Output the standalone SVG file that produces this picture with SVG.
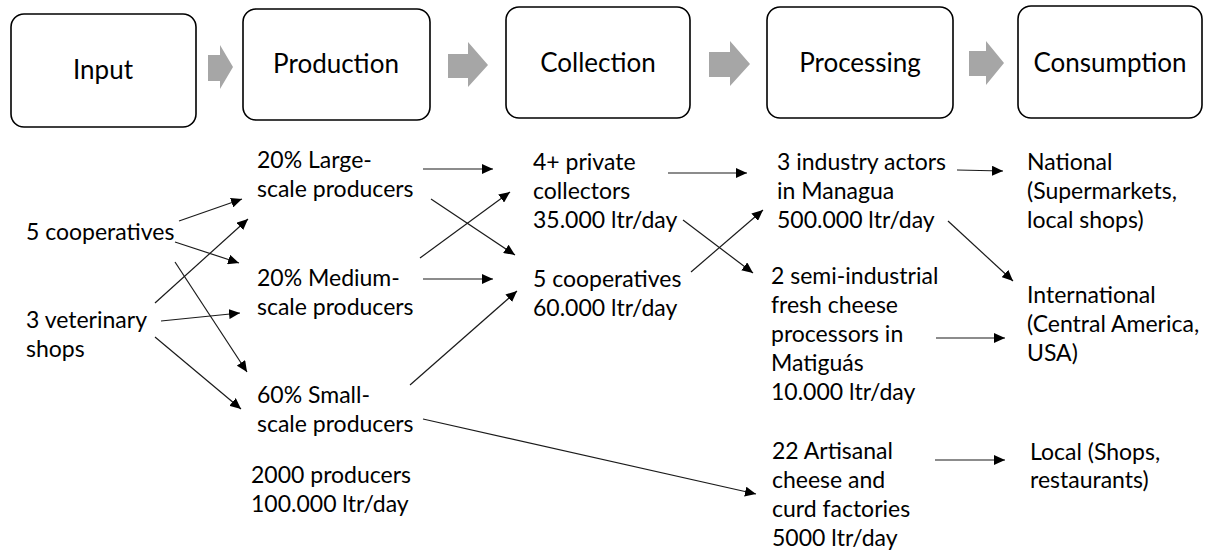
<svg xmlns="http://www.w3.org/2000/svg" width="1209" height="551" viewBox="0 0 1209 551">
<style>
.box{fill:#fff;stroke:#000;stroke-width:1.6}
.h{font-family:Lato,"Liberation Sans",sans-serif;font-size:26px;fill:#000;text-anchor:middle}
.t{font-family:Lato,"Liberation Sans",sans-serif;font-size:23px;fill:#000}
.blk{fill:#a6a6a6}
.c{stroke:#1a1a1a;stroke-width:1.2;fill:none;marker-end:url(#ah)}
</style>
<defs>
<marker id="ah" markerUnits="userSpaceOnUse" markerWidth="12" markerHeight="10" refX="11" refY="5" orient="auto">
<path d="M0,0 L11,5 L0,10 Z" fill="#000"/>
</marker>
</defs>
<rect width="1209" height="551" fill="#fff"/>
<g id="stage-input"><rect class="box" x="11" y="14" width="185" height="113" rx="13"/><text class="h" x="103" y="79">Input</text></g>
<g id="stage-production"><rect class="box" x="243" y="9" width="187" height="111" rx="13"/><text class="h" x="336" y="73">Production</text></g>
<g id="stage-collection"><rect class="box" x="506" y="7" width="184" height="111" rx="13"/><text class="h" x="598" y="72">Collection</text></g>
<g id="stage-processing"><rect class="box" x="767" y="7" width="186" height="111" rx="13"/><text class="h" x="860" y="72">Processing</text></g>
<g id="stage-consumption"><rect class="box" x="1018" y="6" width="184" height="112" rx="13"/><text class="h" x="1110" y="72">Consumption</text></g>
<g id="block-arrows">
<path class="blk" d="M208,55 H220 V45 L233,67 L220,89 V81 H208 Z"/>
<path class="blk" d="M448,54 H468 V42 L488,65 L468,87 V78 H448 Z"/>
<path class="blk" d="M709,52 H730 V41 L750,64 L730,86 V77 H709 Z"/>
<path class="blk" d="M969,51 H986 V41 L1004,63 L986,85 V76 H969 Z"/>
</g>
<g id="n-coops-in"><text class="t" x="26" y="240">5 cooperatives</text></g>
<g id="n-vet"><text class="t" x="26" y="328">3 veterinary</text><text class="t" x="26" y="357">shops</text></g>
<g id="n-large"><text class="t" x="257" y="168">20% Large-</text><text class="t" x="257" y="197">scale producers</text></g>
<g id="n-medium"><text class="t" x="257" y="286">20% Medium-</text><text class="t" x="257" y="315">scale producers</text></g>
<g id="n-small"><text class="t" x="257" y="403">60% Small-</text><text class="t" x="257" y="432">scale producers</text></g>
<g id="n-producers"><text class="t" x="251" y="483">2000 producers</text><text class="t" x="251" y="512">100.000 ltr/day</text></g>
<g id="n-private"><text class="t" x="533" y="170">4+ private</text><text class="t" x="533" y="199">collectors</text><text class="t" x="533" y="228">35.000 ltr/day</text></g>
<g id="n-coops-col"><text class="t" x="533" y="287">5 cooperatives</text><text class="t" x="533" y="316">60.000 ltr/day</text></g>
<g id="n-industry"><text class="t" x="777" y="170">3 industry actors</text><text class="t" x="777" y="199">in Managua</text><text class="t" x="777" y="228">500.000 ltr/day</text></g>
<g id="n-semi"><text class="t" x="771" y="284">2 semi-industrial</text><text class="t" x="771" y="313">fresh cheese</text><text class="t" x="771" y="342">processors in</text><text class="t" x="771" y="371">Matiguás</text><text class="t" x="771" y="400">10.000 ltr/day</text></g>
<g id="n-artisanal"><text class="t" x="772" y="459">22 Artisanal</text><text class="t" x="772" y="488">cheese and</text><text class="t" x="772" y="517">curd factories</text><text class="t" x="772" y="546">5000 ltr/day</text></g>
<g id="n-national"><text class="t" x="1027" y="170">National</text><text class="t" x="1027" y="199">(Supermarkets,</text><text class="t" x="1027" y="228">local shops)</text></g>
<g id="n-international"><text class="t" x="1027" y="303">International</text><text class="t" x="1027" y="332">(Central America,</text><text class="t" x="1027" y="361">USA)</text></g>
<g id="n-local"><text class="t" x="1030" y="460">Local (Shops,</text><text class="t" x="1030" y="488">restaurants)</text></g>
<g id="connectors">
<line class="c" x1="179" y1="221" x2="242" y2="199"/>
<line class="c" x1="175" y1="242" x2="239" y2="263"/>
<line class="c" x1="175" y1="262" x2="247" y2="372"/>
<line class="c" x1="155" y1="303" x2="248" y2="219"/>
<line class="c" x1="161" y1="321" x2="240" y2="313"/>
<line class="c" x1="155" y1="337" x2="241" y2="409"/>
<line class="c" x1="423" y1="169" x2="493" y2="169"/>
<line class="c" x1="431" y1="199" x2="515" y2="255"/>
<line class="c" x1="420" y1="258" x2="510" y2="192"/>
<line class="c" x1="423" y1="279" x2="493" y2="279"/>
<line class="c" x1="410" y1="385" x2="517" y2="291"/>
<line class="c" x1="423" y1="419" x2="756" y2="494"/>
<line class="c" x1="668" y1="173" x2="747" y2="173"/>
<line class="c" x1="683" y1="220" x2="753" y2="273"/>
<line class="c" x1="691" y1="272" x2="763" y2="210"/>
<line class="c" x1="957" y1="170" x2="1003" y2="171"/>
<line class="c" x1="948" y1="221" x2="1013" y2="281"/>
<line class="c" x1="936" y1="338" x2="1005" y2="338"/>
<line class="c" x1="935" y1="460" x2="1005" y2="460"/>
</g>
</svg>
